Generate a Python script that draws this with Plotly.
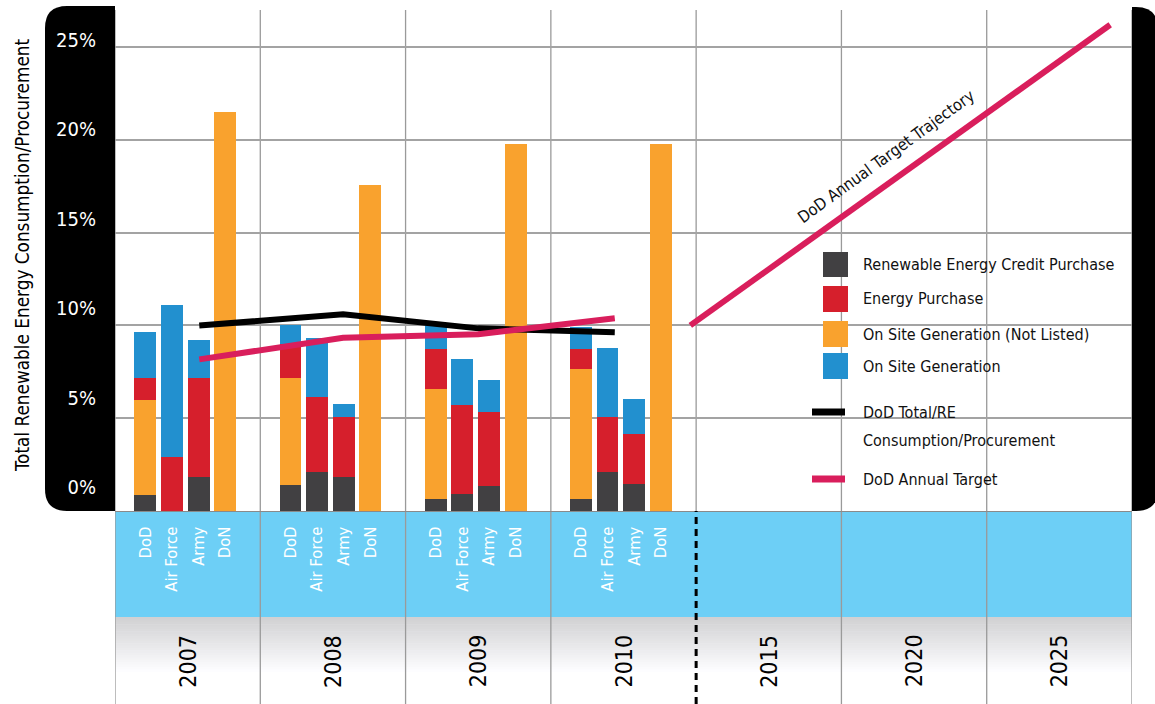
import plotly.graph_objects as go

# ---------------- data ----------------
years = ["2007", "2008", "2009", "2010", "2015", "2020", "2025"]
branches = ["DoD", "Air Force", "Army", "DoN"]

# stacked components (% of total), order per year: DoD, Air Force, Army, DoN
rec_purchase = [0.84, 0.0, 1.81, 0.0,
                1.38, 2.09, 1.81, 0.0,
                0.62, 0.91, 1.34, 0.0,
                0.62, 2.08, 1.43, 0.0]
onsite_not_listed = [5.12, 0.0, 0.0, 21.5,
                     5.78, 0.0, 0.0, 17.56,
                     5.93, 0.0, 0.0, 19.77,
                     7.01, 0.0, 0.0, 19.77]
energy_purchase = [1.20, 2.89, 5.35, 0.0,
                   1.86, 4.03, 3.23, 0.0,
                   2.16, 4.78, 3.97, 0.0,
                   1.08, 2.96, 2.70, 0.0]
onsite_generation = [2.47, 8.19, 2.04, 0.0,
                     0.98, 3.18, 0.70, 0.0,
                     1.29, 2.48, 1.73, 0.0,
                     1.19, 3.72, 1.88, 0.0]

dod_total = [9.99, 10.60, 9.84, 9.63]          # 2007-2010
dod_target = [8.17, 9.33, 9.52, 10.38]         # 2007-2010
trajectory_x = [3.96, 6.85]                    # axis units (column index)
trajectory_y = [10.0, 26.2]

y_ticks = [0, 5, 10, 15, 20, 25]
y_ticktext = ["0%", "5%", "10%", "15%", "20%", "25%"]

# ---------------- layout helpers ----------------
W, H = 1155, 704
PL, PR, PT, PB = 115, 1132, 10, 511
FONT = "DejaVu Sans Condensed, Liberation Sans Narrow, Arial Narrow, sans-serif"


def px(x):
    return (x - PL) / (PR - PL)


def py(y):
    return (PB - y) / (PB - PT)


bar_offsets = [0.208, 0.39, 0.575, 0.758]
bar_width = 0.151
line_offsets = [0.58, 0.57, 0.50, 0.44]

n_measured = 4
bar_x = [i + bar_offsets[j] for i in range(n_measured) for j in range(len(branches))]
bar_labels = [branches[j] for i in range(n_measured) for j in range(len(branches))]
line_x = [i + line_offsets[i] for i in range(n_measured)]

C_REC = "#414042"
C_RED = "#D61F2C"
C_ORANGE = "#F9A22E"
C_BLUE = "#2290CF"
C_PINK = "#D91E5C"
C_BAND = "#6DCFF6"

fig = go.Figure()

for name, vals, col in [
    ("Renewable Energy Credit Purchase", rec_purchase, C_REC),
    ("On Site Generation (Not Listed)", onsite_not_listed, C_ORANGE),
    ("Energy Purchase", energy_purchase, C_RED),
    ("On Site Generation", onsite_generation, C_BLUE),
]:
    fig.add_trace(go.Bar(x=bar_x, y=vals, width=bar_width, name=name,
                         marker=dict(color=col, line=dict(width=0)),
                         showlegend=False))

fig.add_trace(go.Scatter(x=line_x, y=dod_total, mode="lines",
                         line=dict(color="black", width=6),
                         name="DoD Total/RE Consumption/Procurement", showlegend=False))
fig.add_trace(go.Scatter(x=line_x, y=dod_target, mode="lines",
                         line=dict(color=C_PINK, width=6),
                         name="DoD Annual Target", showlegend=False))
fig.add_trace(go.Scatter(x=trajectory_x, y=trajectory_y, mode="lines",
                         line=dict(color=C_PINK, width=6),
                         name="DoD Annual Target Trajectory", showlegend=False))
# carrier for the tick-label axis
fig.add_trace(go.Scatter(x=[None], y=[None], yaxis="y2", showlegend=False, hoverinfo="skip"))

shapes = []
# left black panel with rounded left corners
r = 22
shapes.append(dict(
    type="path", xref="paper", yref="paper", layer="below",
    path=(f"M {px(PL)},{py(6)} L {px(45 + r)},{py(6)} Q {px(45)},{py(6)} {px(45)},{py(6 + r)} "
          f"L {px(45)},{py(PB - r)} Q {px(45)},{py(PB)} {px(45 + r)},{py(PB)} L {px(PL)},{py(PB)} Z"),
    fillcolor="black", line=dict(width=0)))
# right black panel
shapes.append(dict(
    type="path", xref="paper", yref="paper", layer="below",
    path=(f"M {px(PR)},{py(7)} L {px(1136)},{py(7)} Q {px(1158)},{py(7)} {px(1158)},{py(29)} "
          f"L {px(1158)},{py(PB - 22)} Q {px(1158)},{py(PB)} {px(1136)},{py(PB)} L {px(PR)},{py(PB)} Z"),
    fillcolor="black", line=dict(width=0)))
# blue band
shapes.append(dict(type="rect", xref="paper", yref="paper", layer="below",
                   x0=px(PL), x1=px(PR), y0=py(617), y1=py(PB),
                   fillcolor=C_BAND, line=dict(width=0)))
# gray gradient band
g0, g1, steps = 617, 674, 24
for k in range(steps):
    t = k / (steps - 1)
    c = int(round(209 + (255 - 209) * t))
    ya = g0 + (g1 - g0) * k / steps
    yb = g0 + (g1 - g0) * (k + 1) / steps
    shapes.append(dict(type="rect", xref="paper", yref="paper", layer="below",
                       x0=px(PL), x1=px(PR), y0=py(yb + 0.5), y1=py(ya),
                       fillcolor=f"rgb({c},{c},{min(255, c + 2)})", line=dict(width=0)))
# vertical grid lines
for i in range(len(years) + 1):
    if i == 4:
        shapes.append(dict(type="line", xref="x", yref="paper", layer="below",
                           x0=i, x1=i, y0=0, y1=1, line=dict(color="#9a9a9a", width=1.3)))
        shapes.append(dict(type="line", xref="x", yref="paper", layer="above",
                           x0=i, x1=i, y0=py(H), y1=0,
                           line=dict(color="black", width=3, dash="7px,5px")))
    else:
        shapes.append(dict(type="line", xref="x", yref="paper", layer="below",
                           x0=i, x1=i, y0=py(H), y1=1, line=dict(color="#9a9a9a", width=1.3)))

# custom legend
legend_boxes = [
    ("Renewable Energy Credit Purchase", C_REC, 252, 277),
    ("Energy Purchase", C_RED, 286, 312),
    ("On Site Generation (Not Listed)", C_ORANGE, 321, 347),
    ("On Site Generation", C_BLUE, 353, 379),
]
annotations = []
LF = 16
for txt, col, y0, y1 in legend_boxes:
    shapes.append(dict(type="rect", xref="paper", yref="paper",
                       x0=px(823), x1=px(848), y0=py(y1), y1=py(y0),
                       fillcolor=col, line=dict(width=0)))
    annotations.append(dict(text=txt, xref="paper", yref="paper", x=px(861), y=py((y0 + y1) / 2),
                            xanchor="left", yanchor="middle", showarrow=False,
                            font=dict(family=FONT, size=LF, color="#111")))
for col, yc, txt_lines in [("black", 412, ["DoD Total/RE", "Consumption/Procurement"]),
                           (C_PINK, 479, ["DoD Annual Target"])]:
    shapes.append(dict(type="line", xref="paper", yref="paper",
                       x0=px(812), x1=px(845), y0=py(yc), y1=py(yc),
                       line=dict(color=col, width=7)))
    for k, t in enumerate(txt_lines):
        annotations.append(dict(text=t, xref="paper", yref="paper", x=px(861), y=py(yc + 28 * k),
                                xanchor="left", yanchor="middle", showarrow=False,
                                font=dict(family=FONT, size=LF, color="#111")))

# year labels
for i, yr in enumerate(years):
    annotations.append(dict(text=yr, xref="x", yref="paper", x=i + 0.5, y=py(661),
                            textangle=-90, showarrow=False, xanchor="center", yanchor="middle",
                            font=dict(family=FONT, size=23, color="black")))
# y title
annotations.append(dict(text="Total Renewable Energy Consumption/Procurement",
                        xref="paper", yref="paper", x=px(22), y=py(255), textangle=-90,
                        showarrow=False, xanchor="center", yanchor="middle",
                        font=dict(family=FONT, size=18.8, color="black")))
# trajectory label
annotations.append(dict(text="DoD Annual Target Trajectory", xref="paper", yref="paper",
                        x=px(886), y=py(156), textangle=-36, showarrow=False,
                        xanchor="center", yanchor="middle",
                        font=dict(family=FONT, size=16.3, color="#111")))

# tick-label axis: labels sit above their grid lines as in the original
lab_top, lab_bot = 40, 487
scale = (lab_bot - lab_top) / 25.0
y2_range = [-(PB - lab_bot) / scale, (lab_bot - PT) / scale]

fig.update_layout(
    width=W, height=H,
    margin=dict(l=PL, r=W - PR, t=PT, b=H - PB, pad=0),
    paper_bgcolor="white", plot_bgcolor="white",
    barmode="relative", bargap=0,
    font=dict(family=FONT),
    xaxis=dict(range=[0, 7], tickvals=bar_x, ticktext=bar_labels, tickangle=-90,
               tickfont=dict(family=FONT, size=16.5, color="white"),
               ticks="", ticklabelstandoff=8, showgrid=False, zeroline=False,
               showline=True, linecolor="#8a8a8a", linewidth=1, fixedrange=True),
    yaxis=dict(range=[0, (PB - PT) / ((PB - 47) / 25.0)], tickvals=y_ticks,
               showticklabels=False, showgrid=True, gridcolor="#a3a3a3", gridwidth=1.5,
               zeroline=False, ticks="", fixedrange=True),
    yaxis2=dict(range=y2_range, overlaying="y", side="left", tickvals=y_ticks,
                ticktext=y_ticktext, showgrid=False, zeroline=False, ticks="",
                tickfont=dict(family=FONT, size=20, color="white"),
                ticklabelstandoff=18, showline=False, fixedrange=True),
    shapes=shapes, annotations=annotations, showlegend=False,
)

fig.write_html("out.html", config={"displayModeBar": False},
               post_script="document.body.style.margin='0';")
